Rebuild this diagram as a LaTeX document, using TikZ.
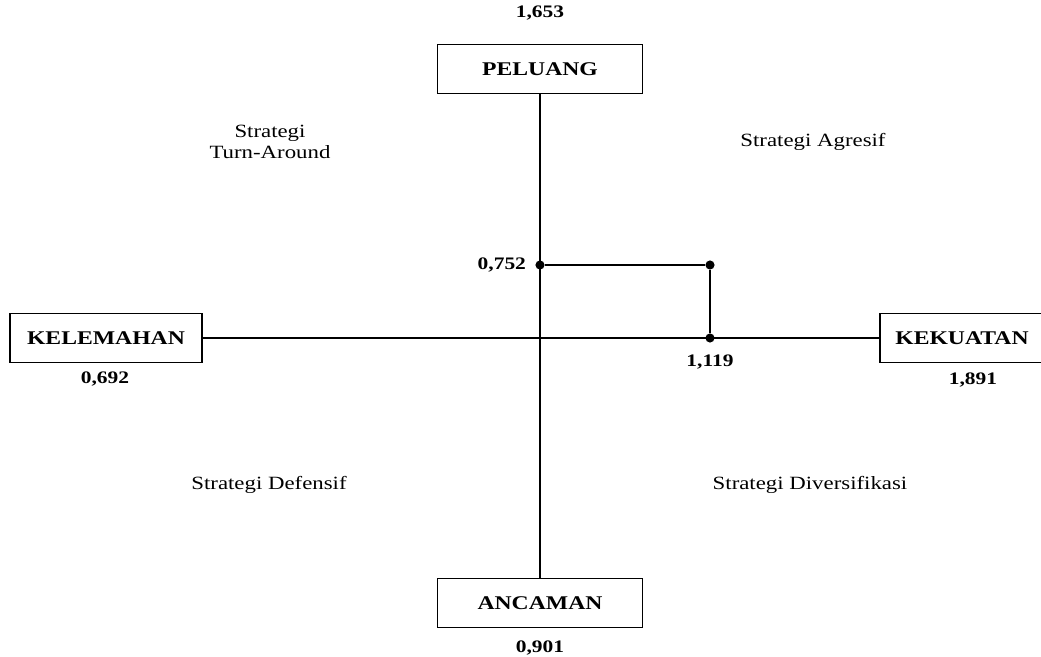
\documentclass[tikz,border=0pt]{standalone}
\usepackage{fontspec}
\setmainfont{Liberation Serif}[FakeStretch=1.22]
\usetikzlibrary{positioning,calc}

\begin{document}
\begin{tikzpicture}[x=0.025cm, y=-0.025cm,
  box/.style={draw, line width=1pt, minimum height=1.22cm, inner sep=0pt, font=\fontsize{13.8}{16}\selectfont\bfseries},
  val/.style={font=\fontsize{12.5}{14}\selectfont\bfseries},
  strat/.style={align=center, font=\fontsize{13.3}{15.5}\selectfont},
  dot/.style={circle, fill=black, inner sep=0pt, minimum size=6.5pt}]
\useasboundingbox (0,0) rectangle (1041,657);
% axis boxes
\node[box, minimum width=5.125cm] (peluang) at (540,69) {PELUANG};
\node[box, minimum width=5.125cm] (ancaman) at (540,603) {ANCAMAN};
\node[box, minimum width=4.8cm] (kelemahan) at (106,338) {KELEMAHAN};
\node[box, minimum width=4.1cm] (kekuatan) at (962,338) {KEKUATAN};
% axes
\draw[line width=0.8pt] (peluang.south) -- (ancaman.north);
\draw[line width=0.8pt] (kelemahan.east) -- (kekuatan.west);
% values
\node[val] (vp) at (540,13) {1,653};
\node[val] (va) at (540,648) {0,901};
\node[val] (vl) at (105,379) {0,692};
\node[val] (vk) at (973,380) {1,891};
% position point
\node[dot] (wo) at (540,265) {};
\node[dot] (so) at (710,265) {};
\node[dot] (sx) at (710,338) {};
\draw[line width=0.8pt] (wo) -- (so) -- (sx);
\node[val, left=3pt of wo] (vwo) {0,752};
\node[val] (vsx) at (710,362) {1,119};
% quadrants
\node[strat] (turn) at (270,142) {Strategi\\Turn-Around};
\node[strat] (agresif) at (813,142) {Strategi Agresif};
\node[strat] (defensif) at (269,485) {Strategi Defensif};
\node[strat] (divers) at (810,485) {Strategi Diversifikasi};
\end{tikzpicture}
\end{document}
